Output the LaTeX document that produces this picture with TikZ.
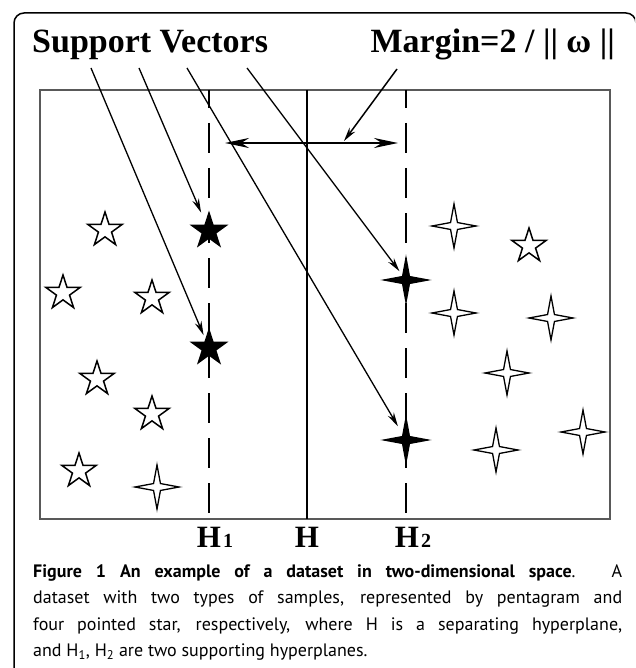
\documentclass[tikz,border=0pt]{standalone}
\usepackage{fontspec}
\setmainfont{Liberation Serif}
\newfontfamily\capfont{PT Sans}
\usetikzlibrary{arrows.meta,shapes.geometric,calc}

\tikzset{
  pent/.style={star, star points=5, star point ratio=2.618, minimum size=36pt, inner sep=0pt, draw, line width=1.5pt, fill=white},
  fpent/.style={pent, fill=black},
  four/.style={star, star points=4, star point ratio=4.5, minimum size=44pt, inner sep=0pt, draw, line width=1.3pt, fill=white},
  ffour/.style={four, fill=black},
  svarrow/.style={line width=1.3pt, -{Stealth[length=14pt,width=7pt]}},
  marrow/.style={line width=2.2pt, {Stealth[length=24pt,width=10pt]}-{Stealth[length=24pt,width=10pt]}},
  hplane/.style={line width=2pt},
  hdash/.style={line width=2pt, dash pattern=on 30pt off 15pt, dash phase=12pt},
  toplab/.style={inner sep=0pt, font=\fontsize{34}{38}\selectfont\bfseries},
  hlab/.style={anchor=base, inner sep=0pt, font=\fontsize{31}{31}\selectfont\bfseries},
}
\newcommand{\hsub}[1]{\rlap{\hspace{2pt}\fontsize{20}{20}\selectfont #1}}

\begin{document}
\begin{tikzpicture}[x=1pt,y=-1pt]
\useasboundingbox (0,0) rectangle (635,668);
\clip (0,0) rectangle (635,668);

%frame
\draw[line width=1.5pt, rounded corners=10pt] (14,690) -- (14,13) -- (636,13) -- (636,690);

%labels on top
\node[toplab, anchor=base west] (svlab) at (32,53) {Support Vectors};
\node[toplab, anchor=base east] (mglab) at (615,53) {Margin=2 / || ω ||};

%box and hyperplanes
\draw[line width=1.5pt, gray!70!black] (40,90) rectangle (610,519);
\draw[hplane] (307,90) -- (307,519);
\draw[hdash] (209,90) -- (209,519);
\draw[hdash] (406,90) -- (406,519);

\node[hlab] (h1) at (209,547) {H\hsub{1}};
\node[hlab] (h) at (307,547) {H};
\node[hlab] (h2) at (407,547) {H\hsub{2}};

%margin
\coordinate (ml) at (225,143);
\coordinate (mr) at (398,143);
\coordinate (m0) at (397,69);
\coordinate (mt) at (344,141);
\draw[marrow] (ml) -- (mr);
\draw[svarrow, line width=1.5pt] (m0) -- (mt);

%left class
\node[pent] (p1) at (105,230) {};
\node[pent] (p2) at (63,293) {};
\node[pent] (p3) at (152,298) {};
\node[pent] (p4) at (97,379) {};
\node[pent] (p5) at (152,414) {};
\node[pent] (p6) at (79,471) {};
\node[four] (q0) at (157,487) {};
\node[fpent] (a1) at (209,231) {};
\node[fpent] (a2) at (209,348) {};

%right class
\node[four] (q1) at (454,226) {};
\node[pent] (p7) at (529,246) {};
\node[four] (q2) at (454,313) {};
\node[four] (q3) at (551,318) {};
\node[four] (q4) at (507,373) {};
\node[four] (q5) at (583,432) {};
\node[four] (q6) at (496,450) {};
\node[ffour] (b1) at (406,280) {};
\node[ffour] (b2) at (406,440) {};

%support vector arrows
\coordinate (s1) at (91,68);
\coordinate (s2) at (139,68);
\coordinate (s3) at (187,68);
\coordinate (s4) at (247,68);
\draw[svarrow] (s1) -- ($(a2)!14pt!(s1)$);
\draw[svarrow] (s2) -- ($(a1)!20pt!(s2)$);
\draw[svarrow] (s3) -- ($(b2)!16pt!(s3)$);
\draw[svarrow] (s4) -- ($(b1)!11pt!(s4)$);

%caption
\node[anchor=north west, inner sep=0pt, text width=589pt, align=justify,
      font=\capfont\fontsize{18}{26.5}\selectfont] (cap) at (33,564)
{\textbf{Figure 1 An example of a dataset in two-dimensional space}. A\linebreak
dataset with two types of samples, represented by pentagram and\linebreak
four pointed star, respectively, where H is a separating hyperplane,\linebreak
and H\textsubscript{1}, H\textsubscript{2} are two supporting hyperplanes.};

\end{tikzpicture}
\end{document}
